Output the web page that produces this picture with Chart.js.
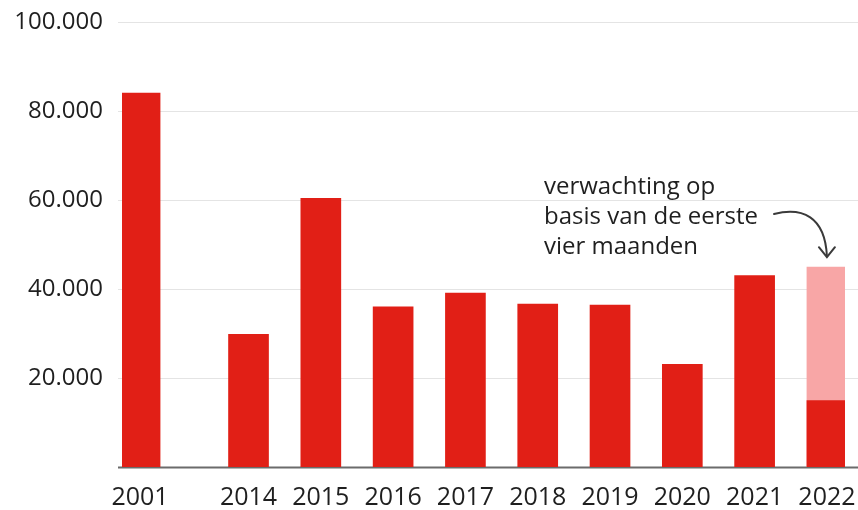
<!DOCTYPE html>
<html>
<head>
<meta charset="utf-8">
<script src="https://cdn.jsdelivr.net/npm/chart.js"></script>
<style>
  html, body { margin: 0; padding: 0; background: #fff; }
  #wrap { width: 858px; height: 510px; }
</style>
</head>
<body>
<div id="wrap"><canvas id="barChart"></canvas></div>
<script>
// Jaren en aantallen
const years = ['2001', '2014', '2015', '2016', '2017', '2018', '2019', '2020', '2021', '2022'];
const counts = [84000, 29800, 60400, 36000, 39100, 36600, 36400, 23100, 43000, 14900];
const forecast2022 = 44900;
const yTicks = [0, 20000, 40000, 60000, 80000, 100000];
const noteLines = ['verwachting op', 'basis van de eerste', 'vier maanden'];

const RED = '#e11f16';
const PINK = '#f8a6a6';
const FONT = '"Open Sans", sans-serif';

// Halve vakjes: één leeg vak tussen jaren, twee na 2001 voor de sprong in de tijd
const slotLabels = [];
const slotCounts = [];
const slotForecast = [];
years.forEach((y, i) => {
    slotLabels.push(y);
    slotCounts.push(counts[i]);
    slotForecast.push(y === '2022' ? forecast2022 : null);
    if (i === years.length - 1) return;
    const gaps = y === '2001' ? 2 : 1;
    for (let g = 0; g < gaps; g++) {
        slotLabels.push('');
        slotCounts.push(null);
        slotForecast.push(null);
    }
});

const fmt = v => v.toLocaleString('de-DE');

const extras = {
    id: 'extras',
    beforeDatasetsDraw(chart) {
        const { ctx, scales: { y } } = chart;
        ctx.save();
        yTicks.forEach(t => {
            const py = Math.round(y.getPixelForValue(t)) + 0.5;
            ctx.strokeStyle = t === 0 ? '#6b6b6b' : '#e4e4e4';
            ctx.lineWidth = t === 0 ? 2 : 1;
            ctx.beginPath();
            ctx.moveTo(118, py);
            ctx.lineTo(chart.width, py);
            ctx.stroke();
        });
        ctx.restore();
    },
    afterDraw(chart) {
        const { ctx, scales: { x, y } } = chart;
        const idx = slotLabels.indexOf('2022');
        const bx = x.getPixelForValue(idx);
        const by = y.getPixelForValue(forecast2022);

        ctx.save();
        ctx.fillStyle = '#1f1f1f';
        ctx.font = '24px ' + FONT;
        ctx.textBaseline = 'alphabetic';
        noteLines.forEach((line, i) => {
            ctx.fillText(line, 544, 194 + i * 30);
        });

        // gebogen pijl naar de 2022-staaf
        ctx.strokeStyle = '#3a3a3a';
        ctx.lineWidth = 2;
        ctx.lineCap = 'round';
        ctx.beginPath();
        ctx.moveTo(774, 214);
        ctx.bezierCurveTo(802, 207, bx - 2, 216, bx, by - 11);
        ctx.stroke();
        ctx.beginPath();
        ctx.moveTo(bx - 8, by - 20);
        ctx.lineTo(bx, by - 10);
        ctx.lineTo(bx + 8, by - 20);
        ctx.stroke();
        ctx.restore();
    }
};

new Chart(document.getElementById('barChart'), {
    type: 'bar',
    data: {
        labels: slotLabels,
        datasets: [
            {
                label: 'Aantal',
                data: slotCounts,
                backgroundColor: RED,
                barThickness: 40,
                order: 1
            },
            {
                label: 'Verwachting',
                data: slotForecast,
                backgroundColor: PINK,
                barThickness: 40,
                order: 2
            }
        ]
    },
    options: {
        responsive: true,
        maintainAspectRatio: false,
        animation: false,
        layout: { padding: { top: 22, right: 13, bottom: 0, left: 0 } },
        plugins: {
            legend: { display: false },
            tooltip: { enabled: false }
        },
        datasets: { bar: { grouped: false } },
        scales: {
            x: {
                grid: { display: false },
                border: { display: false },
                afterFit(scale) {
                    scale.height = 43;
                    scale.paddingLeft = 0;
                    scale.paddingRight = 0;
                },
                ticks: {
                    autoSkip: false,
                    maxRotation: 0,
                    padding: 8,
                    color: '#1f1f1f',
                    font: { family: FONT, size: 25 }
                }
            },
            y: {
                min: 0,
                max: 100000,
                afterBuildTicks(scale) {
                    scale.ticks = yTicks.map(v => ({ value: v }));
                },
                afterFit(scale) {
                    scale.width = 122;
                    scale.paddingTop = 0;
                    scale.paddingBottom = 0;
                },
                grid: { display: false },
                border: { display: false },
                ticks: {
                    padding: 11,
                    color: '#1f1f1f',
                    font: { family: FONT, size: 24 },
                    callback: v => v === 0 ? '' : fmt(v)
                }
            }
        }
    },
    plugins: [extras]
});
</script>
</body>
</html>
